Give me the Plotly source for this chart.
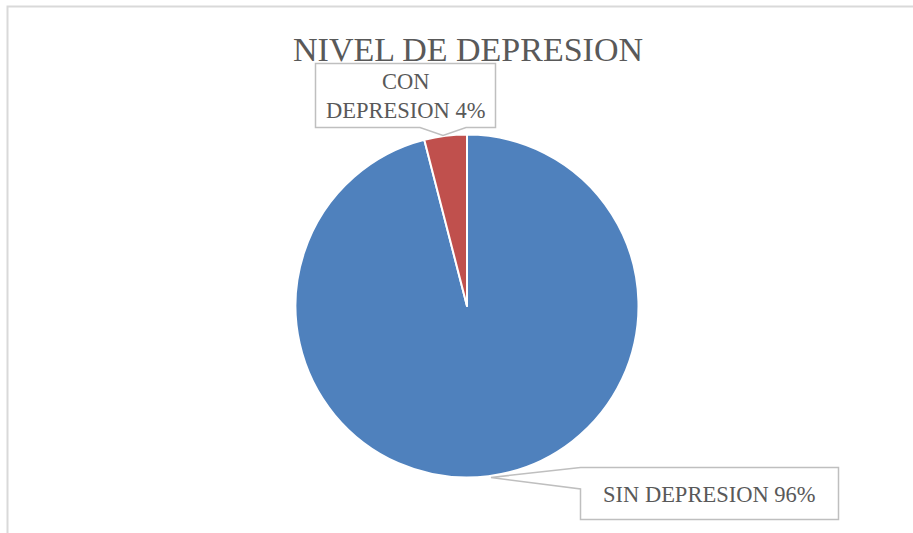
import plotly.graph_objects as go

W, H = 913, 533

title_text = "NIVEL DE DEPRESION"
categories = ["SIN DEPRESION", "CON DEPRESION"]
values = [96, 4]
colors = ["#4F81BD", "#C0504D"]
label_texts = ["SIN DEPRESION 96%", "CON<br>DEPRESION 4%"]


def px(x):
    return x / W


def py(y):
    return 1 - y / H


fig = go.Figure()
fig.add_trace(go.Pie(
    labels=categories,
    values=values,
    sort=False,
    direction="clockwise",
    rotation=0,
    marker=dict(colors=colors, line=dict(color="white", width=2)),
    textinfo="none",
    hoverinfo="label+percent",
    showlegend=False,
    domain=dict(x=[px(295.5), px(638.5)], y=[py(477.5), py(134.5)]),
))


def path(points):
    s = "M " + " L ".join(f"{px(x):.5f},{py(y):.5f}" for x, y in points) + " Z"
    return s


shapes = [
    # outer chart border (top and left visible)
    dict(type="path", xref="paper", yref="paper",
         path=f"M {px(7.5)},{py(540)} L {px(7.5)},{py(6.5)} L {px(920)},{py(6.5)}",
         line=dict(color="#d9d9d9", width=2)),
    # CON callout
    dict(type="path", xref="paper", yref="paper",
         path=path([(315.5, 63.5), (495.5, 63.5), (495.5, 127.5), (466, 127.5),
                    (443, 135.5), (420, 127.5), (315.5, 127.5)]),
         line=dict(color="#bfbfbf", width=1.5), fillcolor="white"),
    # SIN callout
    dict(type="path", xref="paper", yref="paper",
         path=path([(580.5, 467.5), (838.5, 467.5), (838.5, 519.5), (580.5, 519.5),
                    (580.5, 489), (491, 477.5)]),
         line=dict(color="#bfbfbf", width=1.5), fillcolor="white"),
]

annotations = [
    dict(text=title_text, x=px(467.5), y=py(50), xref="paper", yref="paper",
         showarrow=False, xanchor="center", yanchor="middle",
         font=dict(family="Liberation Serif", size=34, color="#595959")),
    dict(text=label_texts[1], x=px(405.5), y=py(96), xref="paper", yref="paper",
         showarrow=False, xanchor="center", yanchor="middle",
         font=dict(family="Liberation Serif", size=22.5, color="#595959")),
    dict(text=label_texts[0], x=px(709.5), y=py(494), xref="paper", yref="paper",
         showarrow=False, xanchor="center", yanchor="middle",
         font=dict(family="Liberation Serif", size=22.5, color="#595959")),
]

fig.update_layout(
    width=W, height=H,
    margin=dict(l=0, r=0, t=0, b=0),
    paper_bgcolor="white", plot_bgcolor="white",
    shapes=shapes, annotations=annotations,
)

fig.write_html("out.html", config={"displayModeBar": False},
               post_script="document.body.style.margin='0';")
